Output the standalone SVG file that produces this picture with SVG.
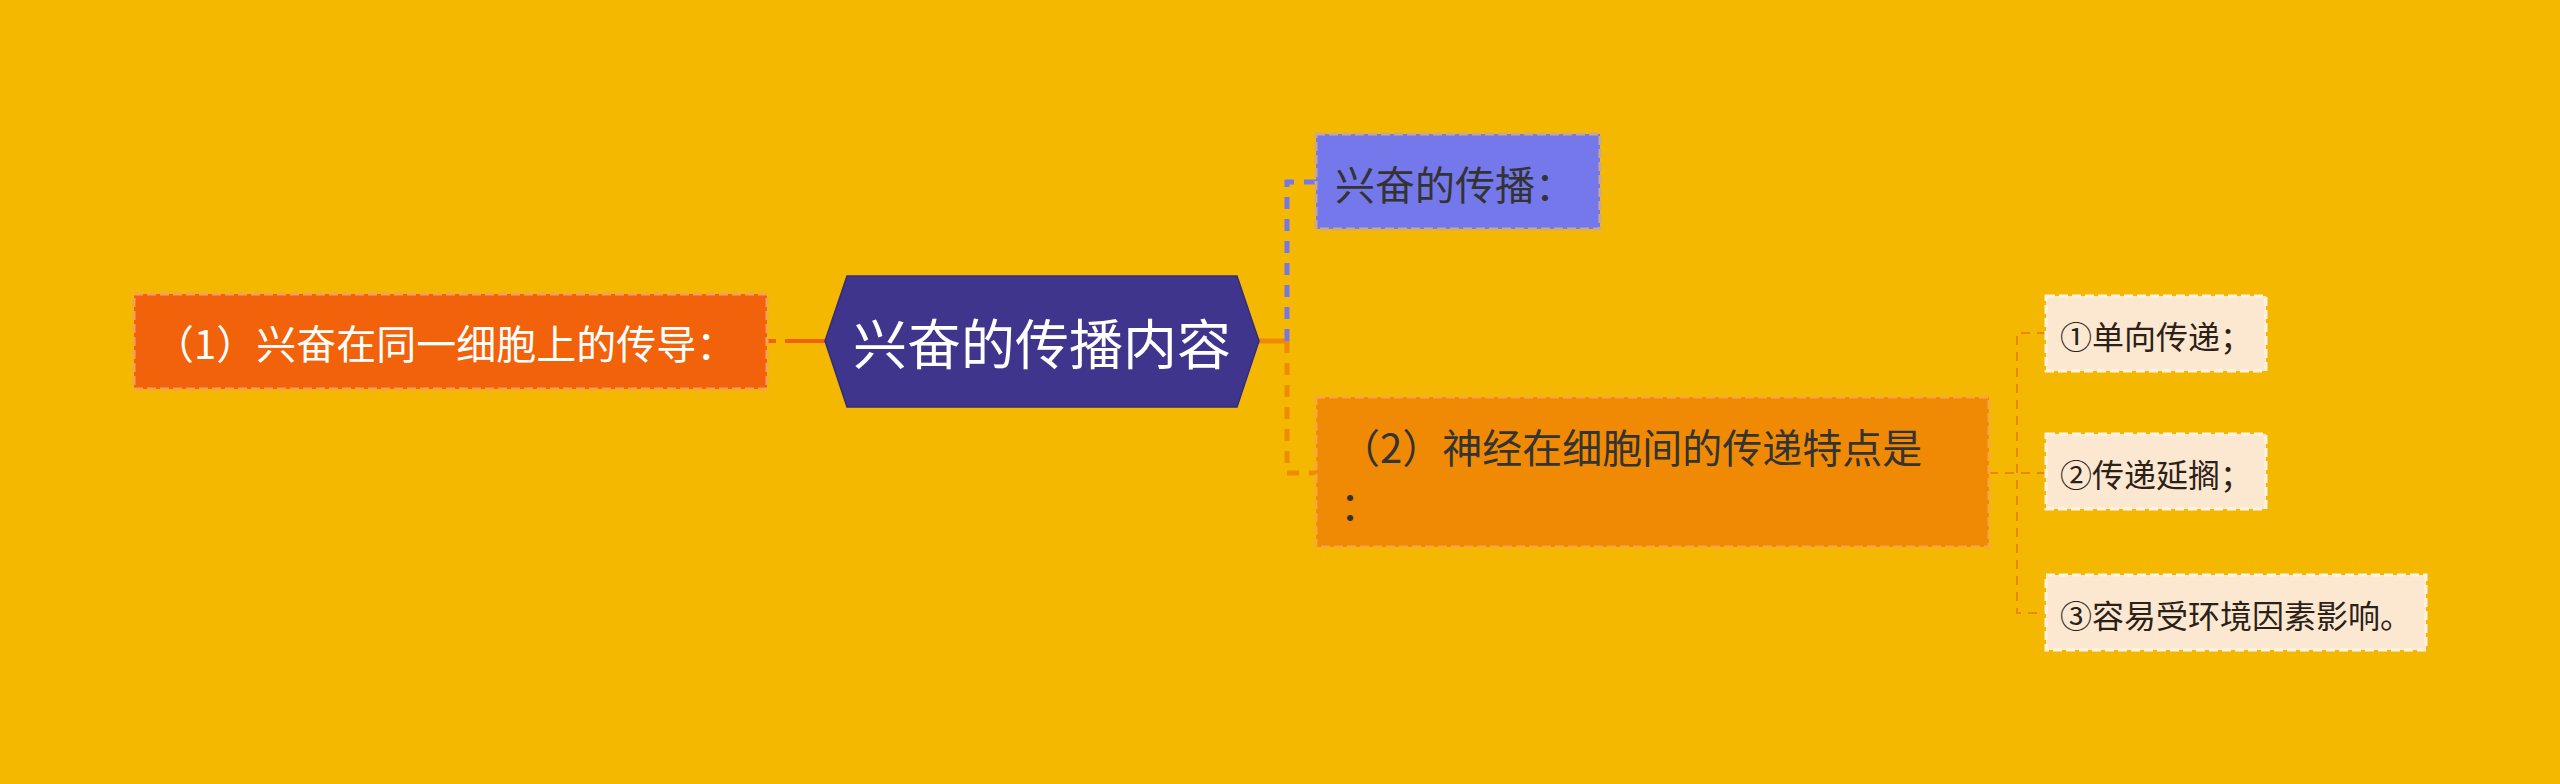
<svg xmlns="http://www.w3.org/2000/svg" width="2560" height="784" viewBox="0 0 2560 784">
  <style>
    text { font-family: "Noto Sans CJK SC", "Liberation Sans", sans-serif; dominant-baseline: central; }
    .main { font-size: 54px; fill: #ffffff; }
    .l1 { font-size: 40px; fill: #ffffff; }
    .l1d { font-size: 40px; fill: #333333; }
    .l2 { font-size: 32px; fill: #2b2118; }
    .box { stroke-width: 3; stroke-dasharray: 9 4; }
  </style>
  <rect x="0" y="0" width="2560" height="784" fill="#F5B800"/>

  <g id="connectors" fill="none">
    <line x1="768" y1="341" x2="776" y2="341" stroke="#F2620A" stroke-width="4"/>
    <line x1="785" y1="341" x2="826" y2="341" stroke="#F2620A" stroke-width="4"/>
    <line x1="1258" y1="341" x2="1287" y2="341" stroke="#F08A04" stroke-width="5"/>
    <path d="M1287 341 V182 H1316" stroke="#7578EA" stroke-width="5" stroke-dasharray="12 10"/>
    <path d="M1287 341 V473 H1316" stroke="#F08A04" stroke-width="5" stroke-dasharray="12 10"/>
    <path d="M1989 473 H2046" stroke="#E8870C" stroke-width="2" stroke-dasharray="9 7"/>
    <path d="M2046 333 H2017 V613 H2046" stroke="#E8870C" stroke-width="2" stroke-dasharray="9 7"/>
  </g>

  <g id="node-root">
    <polygon points="825,341 847,276 1237,276 1259,341 1237,407 847,407" fill="#3F358C" stroke="#352C7A" stroke-width="1.5"/>
    <text class="main" x="1042" y="341" text-anchor="middle">兴奋的传播内容</text>
  </g>

  <g id="node-left">
    <rect class="box" x="134" y="294" width="633" height="95" fill="#F2620A" stroke="#F6A252"/>
    <text class="l1" x="154" y="342">（1）兴奋在同一细胞上的传导：</text>
  </g>

  <g id="node-top">
    <rect class="box" x="1316" y="134" width="284" height="95" fill="#7578EA" stroke="#C9A98A"/>
    <text class="l1d" x="1335" y="183">兴奋的传播：</text>
  </g>

  <g id="node-2">
    <rect class="box" x="1316" y="397" width="673" height="150" fill="#F08A04" stroke="#F5A83C"/>
    <text class="l1d" x="1340" y="446">（2）神经在细胞间的传递特点是</text>
    <text class="l1d" x="1340" y="503">：</text>
  </g>

  <g id="node-s1">
    <rect class="box" x="2046" y="296" width="220" height="75" fill="#FCE8D0" stroke="#FFF3E3"/>
    <text class="l2" x="2060" y="335">①单向传递；</text>
  </g>

  <g id="node-s2">
    <rect class="box" x="2046" y="434" width="220" height="75" fill="#FCE8D0" stroke="#FFF3E3"/>
    <text class="l2" x="2060" y="473">②传递延搁；</text>
  </g>

  <g id="node-s3">
    <rect class="box" x="2046" y="575" width="380" height="75" fill="#FCE8D0" stroke="#FFF3E3"/>
    <text class="l2" x="2060" y="614">③容易受环境因素影响。</text>
  </g>
</svg>
